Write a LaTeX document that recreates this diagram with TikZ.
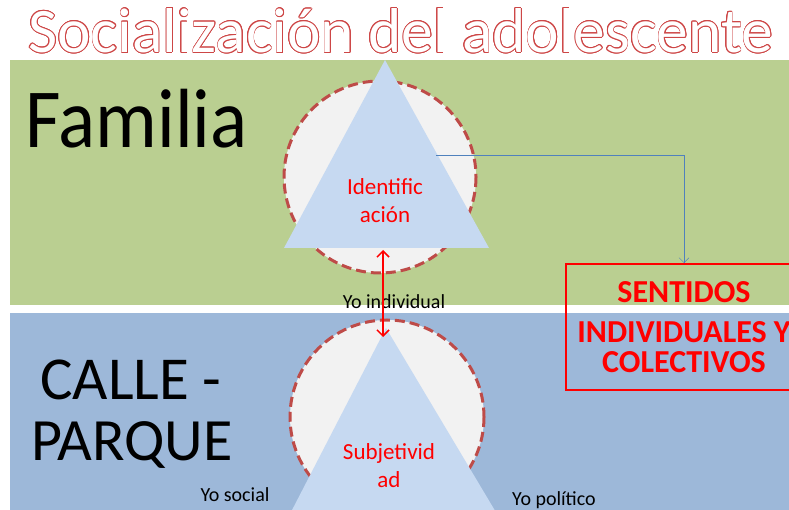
\documentclass[tikz,border=0pt]{standalone}
\usepackage{fontspec}
\setmainfont{Carlito}
\usepackage{contour}
\contourlength{0.7pt}
\usetikzlibrary{arrows.meta}

\definecolor{bandgreen}{RGB}{186,207,145}
\definecolor{bandblue}{RGB}{157,184,217}
\definecolor{trifill}{RGB}{198,217,241}
\definecolor{ringred}{RGB}{190,75,72}
\definecolor{titlered}{RGB}{205,70,70}
\definecolor{linkblue}{RGB}{79,129,189}

\begin{document}
\begin{tikzpicture}[x=1pt,y=-1pt]
\useasboundingbox (0,0) rectangle (789,510);
\clip (0,0) rectangle (789,510);

% Bands
\fill[bandgreen] (10,60) rectangle (789,305);
\fill[bandblue] (10,313) rectangle (789,510);

% Title
\node[text=white,inner sep=0,font=\fontsize{63}{63}\selectfont] (title) at (401,31)
  {\resizebox{745pt}{44pt}{\contour{titlered}{Socialización del adolescente}}};

% Band labels
\node[anchor=base west,inner sep=0,font=\fontsize{84}{84}\selectfont] (familia) at (25,148) {\scalebox{0.92}[1]{Familia}};
\node[anchor=base west,inner sep=0,font=\fontsize{61}{61}\selectfont] (calle) at (40,399) {CALLE -};
\node[anchor=base west,inner sep=0,font=\fontsize{60}{60}\selectfont] (parque) at (31,460) {PARQUE};

% Upper circle and triangle
\draw[fill=black!5,draw=ringred,line width=3pt,dash pattern=on 10pt off 5pt] (380,177) circle (96);
\fill[trifill] (385,60) -- (284,248) -- (489,248) -- cycle;
\node[red,align=center,font=\fontsize{23}{28}\selectfont] (ident) at (385,201) {Identific\\ación};
\coordinate (idside) at (436,155);
\coordinate (idbase) at (383,250);

% Lower circle and triangle
\draw[fill=black!5,draw=ringred,line width=3pt,dash pattern=on 10pt off 5pt] (387,417) circle (97);
\fill[trifill] (386,328) -- (290,514) -- (497,514) -- cycle;
\node[red,align=center,font=\fontsize{23}{28}\selectfont] (subj) at (389,466) {Subjetivid\\ad};
\coordinate (subjtop) at (383,337);

% Box
\node[draw=red,line width=2pt,minimum width=236,minimum height=126,inner sep=0,
  text=red,align=center,font=\fontsize{32}{30}\selectfont\bfseries] (sentidos) at (684,327)
  {SENTIDOS\\[10pt]INDIVIDUALES Y\\COLECTIVOS};
\draw[linkblue,-{Straight Barb[length=5pt]}] (idside) -| (sentidos.north);

% Yo labels
\node[font=\fontsize{20}{20}\selectfont] (yoind) at (394,302) {Yo individual};
\node[font=\fontsize{20}{20}\selectfont] (yosoc) at (235,495) {Yo social};
\node[font=\fontsize{20}{20}\selectfont] (yopol) at (554,500) {Yo político};

\draw[red,line width=1.5pt,{Straight Barb[length=6pt]}-{Straight Barb[length=6pt]}] (idbase) -- (subjtop);
\end{tikzpicture}
\end{document}
